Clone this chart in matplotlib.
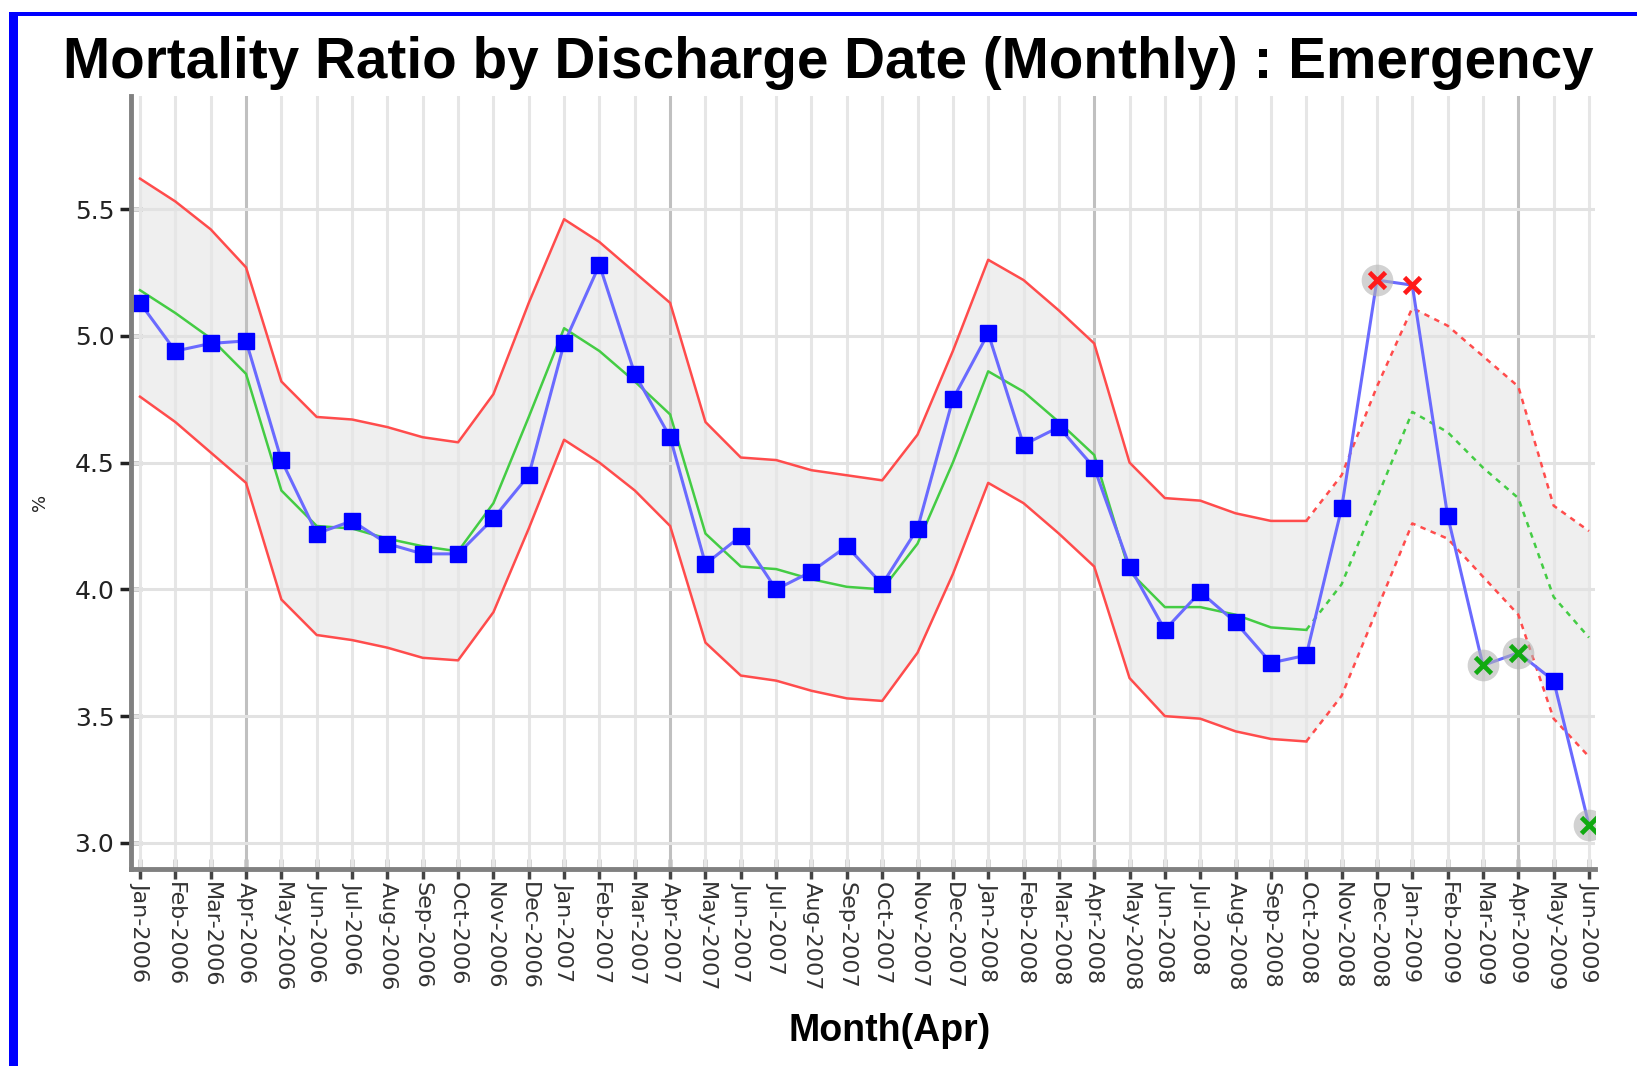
import matplotlib
matplotlib.use('Agg')
import matplotlib.pyplot as plt
import numpy as np
from matplotlib.patches import Rectangle

# ---------------- data ----------------
months = ['Jan-2006', 'Feb-2006', 'Mar-2006', 'Apr-2006', 'May-2006', 'Jun-2006',
          'Jul-2006', 'Aug-2006', 'Sep-2006', 'Oct-2006', 'Nov-2006', 'Dec-2006',
          'Jan-2007', 'Feb-2007', 'Mar-2007', 'Apr-2007', 'May-2007', 'Jun-2007',
          'Jul-2007', 'Aug-2007', 'Sep-2007', 'Oct-2007', 'Nov-2007', 'Dec-2007',
          'Jan-2008', 'Feb-2008', 'Mar-2008', 'Apr-2008', 'May-2008', 'Jun-2008',
          'Jul-2008', 'Aug-2008', 'Sep-2008', 'Oct-2008', 'Nov-2008', 'Dec-2008',
          'Jan-2009', 'Feb-2009', 'Mar-2009', 'Apr-2009', 'May-2009', 'Jun-2009']

ratio = [5.13, 4.94, 4.97, 4.98, 4.51, 4.22, 4.27, 4.18, 4.14, 4.14, 4.28, 4.45,
         4.97, 5.28, 4.85, 4.60, 4.10, 4.21, 4.00, 4.07, 4.17, 4.02, 4.24, 4.75,
         5.01, 4.57, 4.64, 4.48, 4.09, 3.84, 3.99, 3.87, 3.71, 3.74, 4.32, 5.22,
         5.20, 4.29, 3.70, 3.75, 3.64, 3.07]

upper = [5.62, 5.53, 5.42, 5.27, 4.82, 4.68, 4.67, 4.64, 4.60, 4.58, 4.77, 5.13,
         5.46, 5.37, 5.25, 5.13, 4.66, 4.52, 4.51, 4.47, 4.45, 4.43, 4.61, 4.94,
         5.30, 5.22, 5.10, 4.97, 4.50, 4.36, 4.35, 4.30, 4.27, 4.27, 4.45, 4.80,
         5.11, 5.04, 4.92, 4.80, 4.33, 4.23]

lower = [4.76, 4.66, 4.54, 4.42, 3.96, 3.82, 3.80, 3.77, 3.73, 3.72, 3.91, 4.24,
         4.59, 4.50, 4.39, 4.25, 3.79, 3.66, 3.64, 3.60, 3.57, 3.56, 3.75, 4.06,
         4.42, 4.34, 4.22, 4.09, 3.65, 3.50, 3.49, 3.44, 3.41, 3.40, 3.58, 3.92,
         4.26, 4.20, 4.05, 3.90, 3.49, 3.34]

expected = [5.18, 5.09, 4.99, 4.85, 4.39, 4.25, 4.24, 4.20, 4.17, 4.15, 4.34, 4.68,
            5.03, 4.94, 4.82, 4.69, 4.22, 4.09, 4.08, 4.04, 4.01, 4.00, 4.18, 4.50,
            4.86, 4.78, 4.66, 4.53, 4.07, 3.93, 3.93, 3.90, 3.85, 3.84, 4.02, 4.36,
            4.70, 4.62, 4.48, 4.36, 3.97, 3.81]

forecast_from = 'Oct-2008'
high_months = ['Dec-2008', 'Jan-2009']
low_months = ['Mar-2009', 'Apr-2009', 'Jun-2009']
halo_months = ['Dec-2008', 'Mar-2009', 'Apr-2009', 'Jun-2009']

yticks = [3.0, 3.5, 4.0, 4.5, 5.0, 5.5]
ytick_labels = ['3.0', '3.5', '4.0', '4.5', '5.0', '5.5']

title = 'Mortality Ratio by Discharge Date (Monthly) : Emergency'
xlabel = 'Month(Apr)'
ylabel = '%'

# ---------------- figure ----------------
W, H = 1637, 1066
fig = plt.figure(figsize=(W / 100, H / 100), dpi=100)
fig.patch.set_facecolor('white')

ax = fig.add_axes([131 / W, 1 - 869 / H, (1595 - 131) / W, (869 - 96) / H])
ax.set_facecolor('white')

x = np.arange(len(months))
r = np.array(ratio)
up = np.array(upper)
lo = np.array(lower)
ex = np.array(expected)
fi = months.index(forecast_from)

ax.fill_between(x, lo, up, color='#efefef', lw=0, zorder=1)

# grid
for i, lab in enumerate(months):
    ax.axvline(i, color='#c0c0c0' if lab.startswith('Apr') else '#e6e6e6',
               lw=2.2, zorder=2)
for yv in yticks:
    ax.axhline(yv, color='#e2e2e2', lw=2.2, zorder=2)

red = '#ff4c4c'
green = '#44cc44'
for s, c in [(up, red), (lo, red), (ex, green)]:
    ax.plot(x[:fi + 1], s[:fi + 1], color=c, lw=1.8, zorder=3)
    ax.plot(x[fi:], s[fi:], color=c, lw=1.8, ls=(0, (2.2, 2.2)), zorder=3)

ax.plot(x, r, color='#6a6aff', lw=2.2, zorder=4)

special = set(high_months) | set(low_months)
norm_idx = [i for i, m in enumerate(months) if m not in special]
halo_idx = [months.index(m) for m in halo_months]
high_idx = [months.index(m) for m in high_months]
low_idx = [months.index(m) for m in low_months]

ax.scatter(x[halo_idx], r[halo_idx], s=520, color='#b4b4b4', alpha=0.6,
           lw=0, zorder=5)
ax.plot(x[norm_idx], r[norm_idx], 's', color='#0000ff', ms=11, lw=0, zorder=6)
ax.plot(x[high_idx], r[high_idx], 'x', color='#ff1a1a', ms=11, mew=3.4,
        lw=0, zorder=6)
ax.plot(x[low_idx], r[low_idx], 'x', color='#11aa11', ms=11, mew=3.4,
        lw=0, zorder=6)

ax.set_xlim(-0.255, 41.17)
ax.set_ylim(2.897, 5.946)

ax.set_xticks(x)
ax.set_xticklabels(months, rotation=270, fontsize=16, color='#333333',
                   family='DejaVu Sans')
ax.set_yticks(yticks)
ax.set_yticklabels(ytick_labels, fontsize=18, color='#222222',
                   family='DejaVu Sans')

ax.tick_params(axis='x', direction='inout', length=14, width=2.5,
               color='#444444', pad=2)
ax.tick_params(axis='y', direction='inout', length=16, width=2.5,
               color='#222222', pad=4)

for side in ['top', 'right']:
    ax.spines[side].set_visible(False)
for side in ['left', 'bottom']:
    ax.spines[side].set_color('#808080')
    ax.spines[side].set_linewidth(3.5)
    ax.spines[side].set_zorder(7)

fig.text(0.506, 1 - 63 / H, title, ha='center', va='center', fontsize=40.8,
         fontweight='bold', family='Liberation Sans', color='black')
fig.text(890 / W, 1 - 1031 / H, xlabel, ha='center', va='center', fontsize=27,
         fontweight='bold', family='Liberation Sans', color='black')
fig.text(40 / W, 1 - 502 / H, ylabel, ha='center', va='center', fontsize=13,
         rotation=90, family='DejaVu Sans', color='#222222')

# blue frame (left and top edges)
fig.patches.append(Rectangle((9 / W, 0), 9 / W, 1 - 12 / H,
                             transform=fig.transFigure, color='#0000ff', lw=0))
fig.patches.append(Rectangle((9 / W, 1 - 16 / H), 1 - 9 / W, 4 / H,
                             transform=fig.transFigure, color='#0000ff', lw=0))

fig.savefig('out.png', dpi=100, facecolor='white')
